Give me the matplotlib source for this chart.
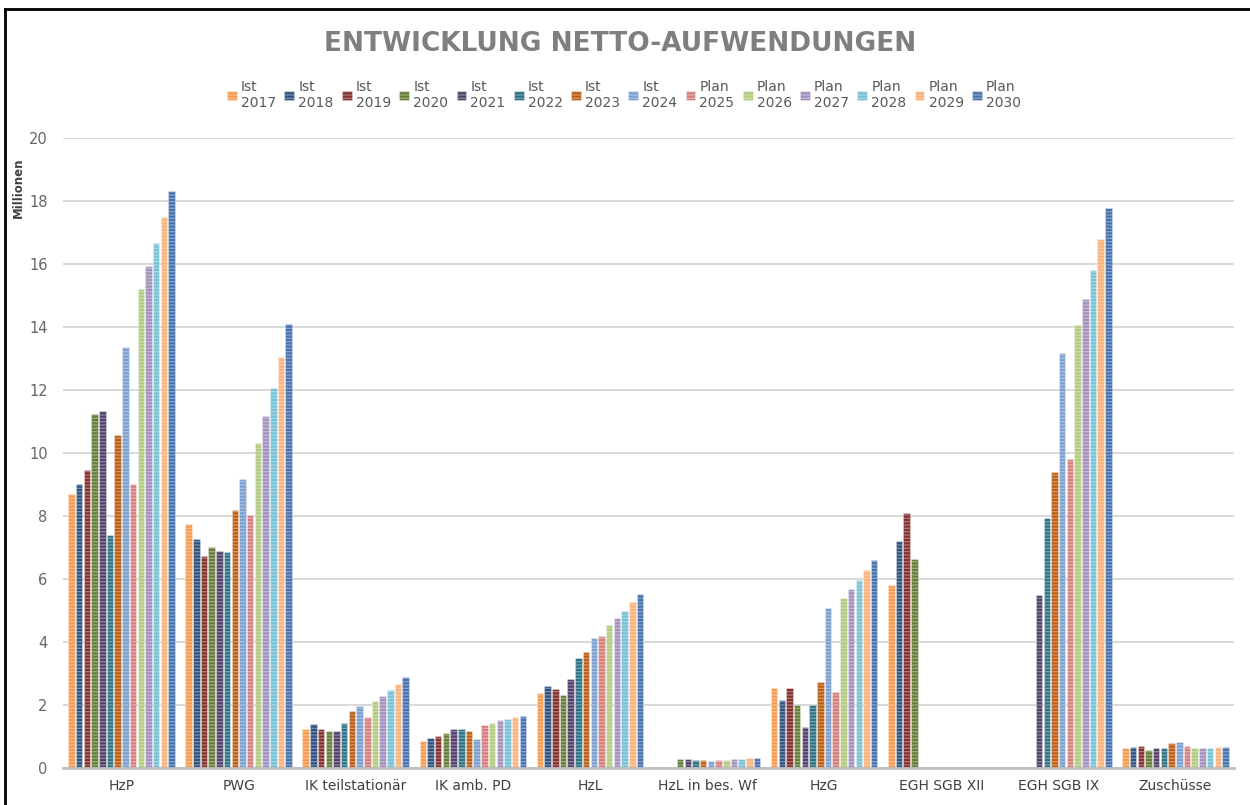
import numpy as np
import matplotlib.pyplot as plt
from matplotlib.lines import Line2D

categories = ["HzP", "PWG", "IK teilstationär", "IK amb. PD", "HzL",
              "HzL in bes. Wf", "HzG", "EGH SGB XII", "EGH SGB IX", "Zuschüsse"]
series_labels = ["Ist\n2017", "Ist\n2018", "Ist\n2019", "Ist\n2020", "Ist\n2021",
                 "Ist\n2022", "Ist\n2023", "Ist\n2024", "Plan\n2025", "Plan\n2026",
                 "Plan\n2027", "Plan\n2028", "Plan\n2029", "Plan\n2030"]

# values in millions, one list per category, one entry per year 2017..2030
hzp = [8.70, 9.03, 9.45, 11.23, 11.33, 7.40, 10.56, 13.36, 9.03, 15.21, 15.94, 16.67, 17.48, 18.31]
pwg = [7.74, 7.27, 6.73, 7.01, 6.89, 6.86, 8.19, 9.18, 8.03, 10.32, 11.16, 12.06, 13.04, 14.11]
ik_teil = [1.25, 1.41, 1.25, 1.17, 1.17, 1.43, 1.81, 1.97, 1.61, 2.13, 2.28, 2.48, 2.67, 2.89]
ik_amb = [0.87, 0.94, 1.02, 1.12, 1.25, 1.25, 1.17, 0.92, 1.38, 1.43, 1.51, 1.56, 1.61, 1.66]
hzl = [2.38, 2.61, 2.51, 2.33, 2.83, 3.48, 3.69, 4.13, 4.20, 4.54, 4.76, 4.99, 5.26, 5.52]
hzl_wf = [0, 0, 0, 0.29, 0.29, 0.25, 0.25, 0.22, 0.25, 0.25, 0.29, 0.29, 0.31, 0.33]
hzg = [2.53, 2.17, 2.53, 1.99, 1.30, 1.99, 2.74, 5.08, 2.40, 5.41, 5.68, 5.98, 6.29, 6.59]
egh_xii = [5.81, 7.20, 8.10, 6.63, 0, 0, 0, 0, 0, 0, 0, 0, 0, 0]
egh_ix = [0, 0, 0, 0, 5.50, 7.94, 9.40, 13.16, 9.82, 14.06, 14.90, 15.82, 16.79, 17.79]
zuschuesse = [0.64, 0.68, 0.71, 0.58, 0.62, 0.62, 0.78, 0.83, 0.69, 0.62, 0.62, 0.64, 0.68, 0.68]

data = np.array([hzp, pwg, ik_teil, ik_amb, hzl, hzl_wf, hzg, egh_xii, egh_ix, zuschuesse])
data = np.where(data == 0, np.nan, data)  # empty slots: no bar

colors = ["#F79A4E", "#2F5280", "#84302E", "#667D38", "#52416B", "#2D7385",
          "#BC5E14", "#7BA0D0", "#D47F7D", "#B2CB7E", "#A391BD", "#76C1D6",
          "#FAB27A", "#4673AE"]

plt.rcParams['hatch.linewidth'] = 0.9

fig = plt.figure(figsize=(12.5, 8.05), dpi=100)
ax = fig.add_axes([63 / 1250, 37 / 805, (1234 - 63) / 1250, (768 - 138) / 805])

n = len(series_labels)
group_w = 0.92
slot = group_w / n
x = np.arange(len(categories))
handles = []
for i in range(n):
    pos = x - group_w / 2 + slot * (i + 0.5)
    b = ax.bar(pos, data[:, i], width=slot * 0.85, color=colors[i],
               edgecolor=(1, 1, 1, 0.35), linewidth=0.6, hatch="-----",
               label=series_labels[i], zorder=3)
    handles.append(b)

ax.set_xlim(-0.5, len(categories) - 0.5)
ax.set_ylim(0, 20)
ax.set_yticks(np.arange(0, 21, 2))
ax.yaxis.grid(True, color="#D9D9D9", linewidth=1.4, zorder=0)
ax.set_axisbelow(True)
for s in ["top", "right", "left"]:
    ax.spines[s].set_visible(False)
ax.spines["bottom"].set_color("#BFBFBF")
ax.spines["bottom"].set_linewidth(2)
ax.spines["bottom"].set_zorder(4)
ax.tick_params(axis="y", length=0, labelsize=10.5, labelcolor="#666666", pad=11)
ax.tick_params(axis="x", length=0, labelsize=10, labelcolor="#404040", pad=8)
ax.set_xticks(x)
ax.set_xticklabels(categories)

fig.text(18 / 1250, 1 - 188 / 805, "Millionen", rotation=90, ha="center", va="center",
         fontsize=8.5, fontweight="bold", color="#404040")

fig.text(620 / 1250, 1 - 44 / 805, "ENTWICKLUNG NETTO-AUFWENDUNGEN", ha="center", va="center",
         fontsize=19, fontweight="bold", color="#7F7F7F")

leg = fig.legend(handles=handles, loc="center", bbox_to_anchor=(624 / 1250, 1 - 95 / 805),
                 ncol=n, frameon=False, fontsize=10, handlelength=0.7, handleheight=0.7,
                 handletextpad=0.3, columnspacing=0.6, labelcolor="#595959")

# frame lines at top and left edge, as in the screenshot
fig.add_artist(Line2D([5 / 1250, 1], [1 - 9 / 805, 1 - 9 / 805], transform=fig.transFigure,
                      color="black", linewidth=2))
fig.add_artist(Line2D([5 / 1250, 5 / 1250], [0, 1 - 9 / 805], transform=fig.transFigure,
                      color="black", linewidth=2))

fig.savefig("out.png", dpi=100)
